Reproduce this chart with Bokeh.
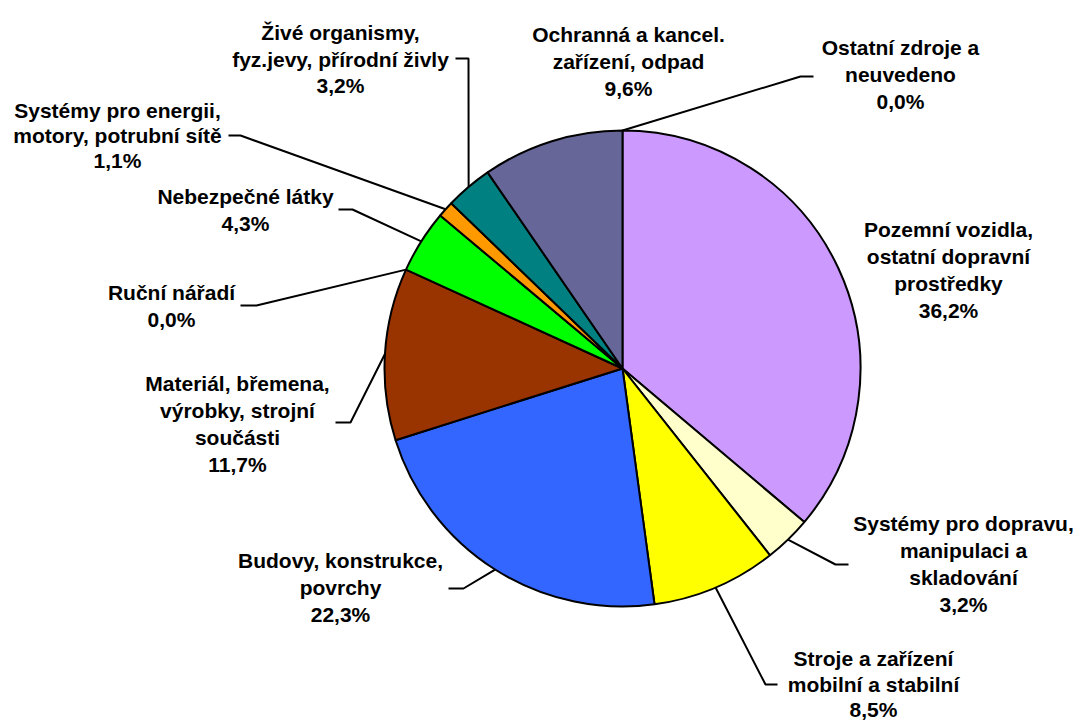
import math
from bokeh.plotting import figure
from bokeh.models import Range1d, ColumnDataSource
from bokeh.embed import file_html
from bokeh.resources import INLINE
from bokeh.core.properties import value

# ---- data ----
categories = [
    "Pozemní vozidla,\nostatní dopravní\nprostředky",
    "Systémy pro dopravu,\nmanipulaci a\nskladování",
    "Stroje a zařízení\nmobilní a stabilní",
    "Budovy, konstrukce,\npovrchy",
    "Materiál, břemena,\nvýrobky, strojní\nsoučásti",
    "Ruční nářadí",
    "Nebezpečné látky",
    "Systémy pro energii,\nmotory, potrubní sítě",
    "Živé organismy,\nfyz.jevy, přírodní živly",
    "Ochranná a kancel.\nzařízení, odpad",
    "Ostatní zdroje a\nneuvedeno",
]
values = [36.2, 3.2, 8.5, 22.3, 11.7, 0.0, 4.3, 1.1, 3.2, 9.6, 0.0]
colors = ["#CC99FF", "#FFFFCC", "#FFFF00", "#3366FF", "#993300", "#FFFFFF",
          "#00FF00", "#FF9900", "#008080", "#666699", "#FFFFFF"]

# ---- layout (screen pixels): label centre x, first line y, line step, leader (elbow x, elbow y, end x) ----
layout = [
    (948, 229, 27, None),
    (963, 523, 27, (835, 564, 848)),
    (873, 658, 25.5, (765, 684, 777)),
    (340, 560, 27, (463, 588, 448)),
    (237, 383, 27, (350, 422, 335)),
    (171, 292, 27, (256, 305, 240)),
    (245, 196, 27, (352, 209, 338)),
    (117, 110, 25, (240, 135, 228)),
    (340, 32, 26.5, (468, 58, 455)),
    (628, 34, 27, None),
    (900, 47, 27, (800, 76, 813)),
]
W, H = 1077, 723
CX, CY_PIX, R = 622, 368, 238


def ydata(py):
    return H - py


CY = ydata(CY_PIX)

p = figure(width=W, height=H, x_range=Range1d(0, W), y_range=Range1d(0, H),
           output_backend="svg", toolbar_location=None,
           x_axis_location=None, y_axis_location=None,
           min_border=0, outline_line_color=None, background_fill_color="white")
p.grid.visible = False

total = sum(values)
starts, ends, cols, mids = [], [], [], []
cum = 0.0
for v, c in zip(values, colors):
    c0 = cum / total
    c1 = (cum + v) / total
    cum += v
    mids.append((c0 + c1) / 2)
    if v > 0:
        starts.append(math.pi / 2 - 2 * math.pi * c1)
        ends.append(math.pi / 2 - 2 * math.pi * c0)
        cols.append(c)

wsrc = ColumnDataSource(dict(start=starts, end=ends, color=cols))
p.wedge(x=CX, y=CY, radius=R, start_angle="start", end_angle="end",
        fill_color="color", line_color="black", line_width=2, source=wsrc)

# leader lines
xs, ys = [], []
for m, lay in zip(mids, layout):
    if lay[3] is None:
        continue
    ang = 2 * math.pi * m
    ax = CX + R * math.sin(ang)
    ay = CY + R * math.cos(ang)
    ex, ey, hx = lay[3]
    xs.append([ax, ex, hx])
    ys.append([ay, ydata(ey), ydata(ey)])
p.multi_line(xs=xs, ys=ys, line_color="black", line_width=2)

# labels
tx, ty, tt = [], [], []
for cat, v, lay in zip(categories, values, layout):
    lines = cat.split("\n") + [f"{v:.1f}".replace(".", ",") + "%"]
    for i, ln in enumerate(lines):
        tx.append(lay[0])
        ty.append(ydata(lay[1] + i * lay[2]))
        tt.append(ln)
p.text(x=tx, y=ty, text=tt, text_font=value("Liberation Sans"), text_font_style="bold",
       text_font_size="21px", text_align="center", text_baseline="middle", text_color="black")

open("out.html", "w").write(file_html(p, INLINE))
